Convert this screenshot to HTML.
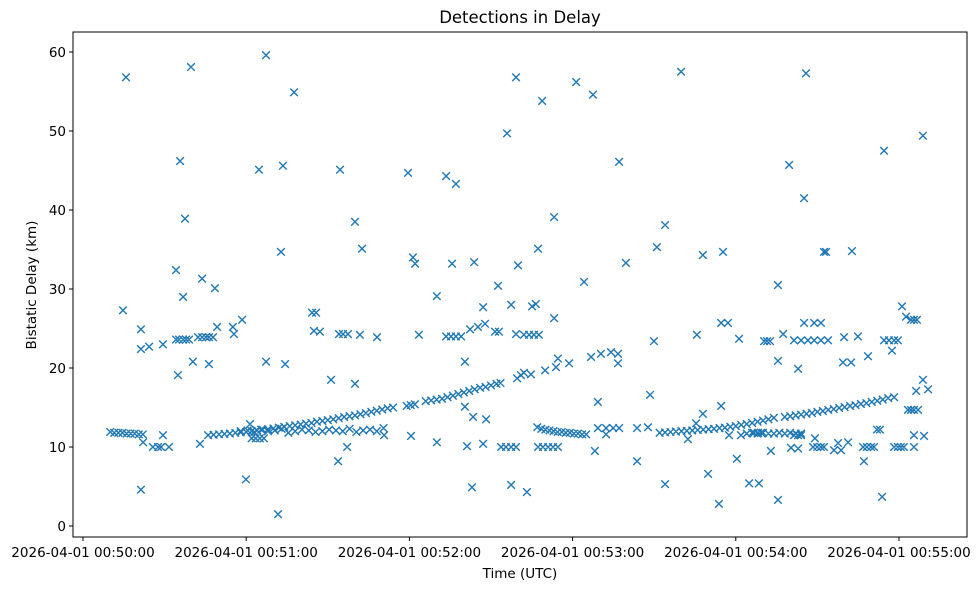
<!DOCTYPE html>
<html><head><meta charset="utf-8"><style>
html,body{margin:0;padding:0;background:#fff;}
svg{display:block;font-family:"DejaVu Sans","Liberation Sans",sans-serif;}
</style></head><body>
<svg id="chart" width="979" height="590" xmlns="http://www.w3.org/2000/svg">
<rect width="979" height="590" fill="#fff"/>
<text x="520" y="23" font-size="16.5" text-anchor="middle">Detections in Delay</text>
<g id="marks"></g>
<rect x="73" y="32" width="894" height="505" fill="none" stroke="#000" stroke-width="1"/>
<g id="axes"></g>
<text x="520" y="578" font-size="13.5" text-anchor="middle">Time (UTC)</text>
<text x="36" y="285" font-size="13.5" text-anchor="middle" transform="rotate(-90 36 285)">Bistatic Delay (km)</text>
</svg>
<script>
const xTicks=[0,60,120,180,240,300];
const xTickLabels=["2026-04-01 00:50:00","2026-04-01 00:51:00","2026-04-01 00:52:00","2026-04-01 00:53:00","2026-04-01 00:54:00","2026-04-01 00:55:00"];
const yTicks=[0,10,20,30,40,50,60];
// seconds after 00:50:00
const outlierTimes=[15.8,39.7,67.3,77.6,35.7,64.7,73.5,94.5,37.5,100,102.6,72.8,34.2,43.8,48.5,36.8,14.7,84.2,85.7,21.3,49.3,55.1,58.5,55.5,21.3,24.3,29.4,34.2,35.3,36.8,37.9,39,42.3,43.8,45.2,46.3,47.8,84.9,87.1,94.1,95.6,97.4,101.8,108.1,40.4,46.3,34.9,67.3,74.3,91.2,100,21.3,59.9,71.7,93.8,97.1,22.1,25.7,27.6,28.7,31.6,29.4,43,61.4,
159.2,181.3,187.5,168.8,155.9,197.1,119.5,133.5,137.1,173.2,214,211,121.3,122.1,135.7,143.8,159.9,167.3,199.6,184.2,152.6,130.1,147.1,157.4,165.1,166.5,173.2,123.5,133.5,135.3,137.1,139,142.3,145.2,147.8,151.5,152.9,159.2,162.1,164,165.8,167.6,209.9,140.4,159.6,161,162.1,164.7,169.9,173.9,174.6,178.7,186.8,190.4,194.1,196.7,196.7,189.3,208.5,140.4,143.4,148.2,120.6,130.1,141.2,147.1,153.7,155.5,157.4,159.2,167.3,169.1,171,172.8,174.6,188.2,203.7,189.3,192.3,194.9,197.1,192.3,203.7,207.7,143,157.4,163.2,214,110.7,
219.9,265.8,308.8,294.5,259.6,265.1,227.9,235.3,272.4,273.2,282.7,255.5,301.1,302.6,304.4,305.5,306.6,234.6,237.1,225.7,241.2,250.4,251.5,252.6,257.4,261.4,264,266.5,268.8,271.3,273.9,265.1,268.8,271.3,279.8,284.9,294.5,296.3,298.2,299.6,297.4,288.6,255.5,262.9,279.4,282.4,308.8,306.3,310.7,298.2,303.3,304.4,305.5,307,234.6,227.9,225.4,222.4,240.4,229.8,244.9,248.5,233.8,255.5,293.8,252.9,260.3,262.9,268.4,269.9,271.3,272.4,269.1,276.1,278.7,277.6,281.3,286.8,288.2,289.7,290.8,287.1,298.2,299.6,300.7,301.8,305.5,305.5,309.2,291.9,293,237.5,241.9,246.7,248.2,249.3,261.4,262.9,264];
const outlierDelays=[56.8,58.1,59.6,54.9,46.2,45.1,45.6,45.1,38.9,38.5,35.1,34.7,32.4,31.3,30.1,29.0,27.3,27.0,27.0,24.9,25.2,25.2,26.1,24.3,22.4,22.7,23.0,23.6,23.6,23.6,23.6,23.6,23.9,23.9,23.9,23.9,23.9,24.7,24.6,24.3,24.3,24.3,24.2,23.9,20.8,20.5,19.1,20.8,20.5,18.5,18.0,4.6,5.9,1.5,8.2,10.0,10.6,10.0,10.0,10.0,10.0,11.5,10.4,12.9,
56.8,56.2,54.6,53.8,49.7,46.1,44.7,44.3,43.3,39.1,38.1,35.3,34.0,33.2,33.2,33.4,33.0,35.1,33.3,30.9,30.4,29.1,27.7,28.0,27.8,28.1,26.3,24.2,24.0,24.0,24.0,24.0,24.9,25.2,25.6,24.6,24.6,24.3,24.2,24.2,24.2,24.2,23.4,20.8,18.7,19.1,19.4,19.2,19.7,20.1,21.2,20.6,21.4,21.8,22.0,21.8,20.6,15.7,16.6,15.1,13.8,13.5,11.4,10.6,10.1,10.4,10.0,10.0,10.0,10.0,10.0,10.0,10.0,10.0,10.0,9.5,8.2,12.4,12.4,12.4,12.4,11.6,12.4,12.5,4.9,5.2,4.3,5.3,11.5,
57.5,57.3,49.4,47.5,45.7,41.5,34.3,34.7,34.7,34.7,34.8,30.5,27.8,26.5,26.1,26.1,26.1,25.7,25.7,24.2,23.7,23.4,23.4,23.4,24.3,23.5,23.5,23.5,23.5,23.5,23.5,25.7,25.7,25.7,23.9,24.0,23.5,23.5,23.5,23.5,22.2,21.5,20.9,19.9,20.7,20.7,18.5,17.1,17.3,16.3,14.7,14.7,14.7,14.7,15.2,14.2,13.0,11.0,8.5,6.6,5.4,5.4,2.8,3.3,3.7,9.5,9.9,9.8,10.0,10.0,10.0,10.0,11.1,9.6,9.6,10.5,10.6,10.0,10.0,10.0,10.0,8.2,10.0,10.0,10.0,10.0,10.0,11.5,11.4,12.2,12.2,11.5,11.5,11.8,11.8,11.8,11.5,11.5,11.5];
const trackATimes=[10,11.5,13,14.5,16,17.5,19,20.5,22];
const trackADelays=[11.9,11.8,11.8,11.8,11.7,11.7,11.7,11.6,11.6];
const trackBTimes=[46,48,50,52,54,56,58,60,62,64,66,68,70,72,74,76,78,80,82,84,86,88,90,92,94,96,98,100,102,104,106,108,110,112,114,119,120.5,122,126,128,130,132,134,136,138,140,142,144,146,148,150,152,153.5];
const trackBDelays=[11.5,11.55,11.6,11.65,11.7,11.8,11.85,11.9,12.0,12.1,12.2,12.25,12.35,12.45,12.55,12.65,12.75,12.85,12.95,13.05,13.2,13.3,13.4,13.5,13.65,13.8,13.9,14.0,14.15,14.3,14.45,14.6,14.75,14.9,15.0,15.2,15.3,15.4,15.8,15.9,16.0,16.1,16.3,16.5,16.7,16.9,17.1,17.3,17.5,17.6,17.8,18.0,18.1];
const trackCTimes=[58,60.5,63,65.5,68,70.5,73,75.5,78,80.5,83,85.5,88,90.5,93,95.5,98,100.5,103,105.5,108,110.5,62,63.5,65,66.5];
const trackCDelays=[12.0,12.1,11.9,12.2,12.0,12.1,12.3,11.8,12.0,12.2,12.1,11.9,12.0,12.2,12.1,12.0,12.3,11.9,12.1,12.2,12.0,12.4,11.1,11.1,11.1,11.1];
const trackDTimes=[167,168.5,170,171.5,173,174.5,176,177.5,179,180.5,182,183.5,185];
const trackDDelays=[12.5,12.3,12.2,12.1,12.0,11.9,11.9,11.8,11.8,11.7,11.7,11.6,11.6];
const trackETimes=[212,214,216,218,220,222,224,226,228,230,232,234,236,238,240,242,244,246,248,250,252,254,258,260,262,264,266,268,270,272,274,276,278,280,282,284,286,288,290,292,294,296];
const trackEDelays=[11.8,11.85,11.9,11.95,12.0,12.05,12.1,12.15,12.2,12.25,12.3,12.4,12.45,12.55,12.65,12.8,12.9,13.05,13.2,13.35,13.5,13.7,13.8,13.9,14.0,14.1,14.2,14.3,14.45,14.55,14.7,14.8,14.95,15.05,15.2,15.3,15.45,15.55,15.7,15.85,16.0,16.2];
const trackFTimes=[244,246,248,250,252,254,256,258,260,262,264];
const trackFDelays=[11.7,11.8,11.7,11.8,11.7,11.7,11.8,11.7,11.8,11.7,11.7];

const X0=83, PXS=163.2/60, Y0=526, PYU=7.9;
function xs(t){return X0+t*PXS;}
function ys(v){return Y0-v*PYU;}
const NS="http://www.w3.org/2000/svg";
const axes=document.getElementById('axes');
xTicks.forEach((t,i)=>{
  const l=document.createElementNS(NS,'line');
  l.setAttribute('x1',xs(t));l.setAttribute('x2',xs(t));l.setAttribute('y1',537);l.setAttribute('y2',541);l.setAttribute('stroke','#000');
  
  
  axes.appendChild(l);
  const tx=document.createElementNS(NS,'text');
  tx.setAttribute('x',xs(t));tx.setAttribute('y',557);tx.setAttribute('font-size','13.5');tx.setAttribute('text-anchor','middle');
  tx.textContent=xTickLabels[i];
  
  
  axes.appendChild(tx);
});
yTicks.forEach(v=>{
  const l=document.createElementNS(NS,'line');
  l.setAttribute('x1',69);l.setAttribute('x2',73);l.setAttribute('y1',ys(v));l.setAttribute('y2',ys(v));l.setAttribute('stroke','#000');
  
  
  axes.appendChild(l);
  const tx=document.createElementNS(NS,'text');
  tx.setAttribute('x',66);tx.setAttribute('y',ys(v)+5);tx.setAttribute('font-size','13.5');tx.setAttribute('text-anchor','end');
  tx.textContent=String(v);
  
  
  axes.appendChild(tx);
});
const marks=document.getElementById('marks');
function plot(T,D){
  let d='';
  for(let i=0;i<T.length;i++){
    const x=xs(T[i]),y=ys(D[i]),h=3.8;
    d+=`M${x-h},${y-h}L${x+h},${y+h}M${x-h},${y+h}L${x+h},${y-h}`;
  }
  const p=document.createElementNS(NS,'path');
  p.setAttribute('d',d);p.setAttribute('stroke','#1f77b4');p.setAttribute('stroke-width','1.4');p.setAttribute('fill','none');
  
  
  marks.appendChild(p);
}
plot(outlierTimes,outlierDelays);
plot(trackATimes,trackADelays);
plot(trackBTimes,trackBDelays);
plot(trackCTimes,trackCDelays);
plot(trackDTimes,trackDDelays);
plot(trackETimes,trackEDelays);
plot(trackFTimes,trackFDelays);
</script>
</body></html>
